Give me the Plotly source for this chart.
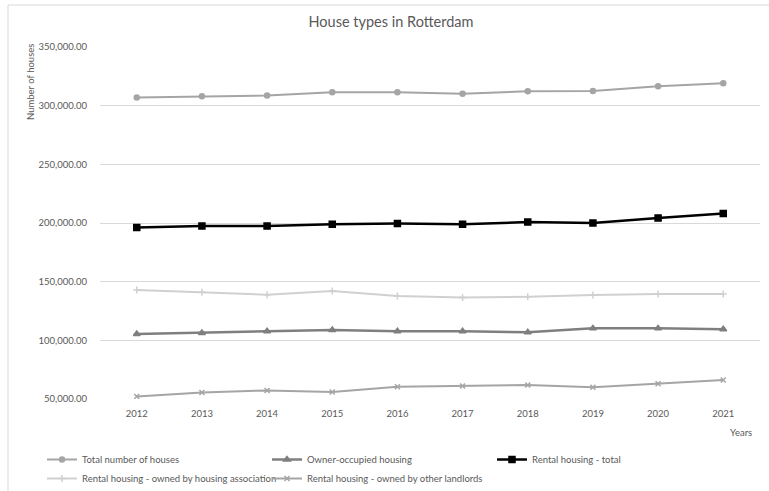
import plotly.graph_objects as go

years = ["2012", "2013", "2014", "2015", "2016", "2017", "2018", "2019", "2020", "2021"]
total_houses = [307000, 308000, 308700, 311400, 311400, 310200, 312300, 312500, 316600, 319000]
owner_occupied = [105400, 106300, 107700, 108900, 107700, 107700, 106800, 110200, 110200, 109400]
rental_total = [196100, 197400, 197400, 198900, 199500, 199000, 200800, 200000, 204300, 208000]
rental_association = [142900, 140900, 138900, 142000, 137800, 136600, 137200, 138600, 139500, 139500]
rental_other = [52200, 55600, 57300, 56000, 60500, 61100, 62000, 60000, 63000, 66200]

W, H = 769, 491
ML, MR, MT, MB = 100, 9, 47, 92
PW, PH = W - ML - MR, H - MT - MB

def px_x(x):
    return (x - ML) / PW

def px_y(y):
    return (H - MB - y) / PH

FONT = "Lato"
TXT = "#595959"

series = [
    ("Total number of houses", total_houses, "#A5A5A5", 2, "circle", 5),
    ("Owner-occupied housing", owner_occupied, "#7F7F7F", 2.5, "triangle-up", 6),
    ("Rental housing - total", rental_total, "#000000", 2.5, "square", 6),
    ("Rental housing - owned by housing association", rental_association, "#D0D0D0", 2, "cross-thin-open", 5),
    ("Rental housing - owned by other landlords", rental_other, "#A5A5A5", 2, "x-thin-open", 5),
]

fig = go.Figure()
for name, vals, color, lw, sym, ms in series:
    fig.add_trace(go.Scatter(
        x=years, y=vals, name=name, mode="lines+markers",
        line=dict(color=color, width=lw),
        marker=dict(symbol=sym, size=ms, color=color,
                    line=dict(color=color, width=1.5)),
    ))

fig.update_layout(
    width=W, height=H,
    margin=dict(l=ML, r=MR, t=MT, b=MB, autoexpand=False),
    paper_bgcolor="white", plot_bgcolor="white",
    font=dict(family=FONT, color=TXT, size=9.5),
    title=dict(text="House types in Rotterdam", x=391 / W, xanchor="center",
               y=1 - 22 / H, yanchor="middle",
               font=dict(family=FONT, size=14.5, color=TXT)),
    xaxis=dict(type="category", showgrid=False, zeroline=False, showline=False,
               ticks="", ticklabelstandoff=7,
               tickfont=dict(size=9.5, color=TXT)),
    yaxis=dict(range=[50000, 350000], dtick=50000, tickformat=",.2f",
               showgrid=True, gridcolor="#D9D9D9", gridwidth=1,
               zeroline=False, showline=False, ticks="", ticklabelstandoff=12,
               tickfont=dict(size=9.5, color=TXT)),
    legend=dict(orientation="h", x=px_x(42), xanchor="left",
                y=px_y(445), yanchor="top",
                entrywidth=180, entrywidthmode="pixels",
                tracegroupgap=0, itemwidth=30,
                font=dict(size=9.5, color=TXT)),
    annotations=[
        dict(text="Number of houses", textangle=-90, xref="paper", yref="paper",
             x=px_x(30), y=px_y(82), xanchor="center", yanchor="middle",
             showarrow=False, font=dict(size=9.5, color=TXT)),
        dict(text="Years", xref="paper", yref="paper",
             x=px_x(754), y=px_y(432), xanchor="right", yanchor="middle",
             showarrow=False, font=dict(size=9.5, color=TXT)),
    ],
    shapes=[
        dict(type="line", xref="paper", yref="paper",
             x0=px_x(8), x1=px_x(W + 5), y0=px_y(5), y1=px_y(5),
             line=dict(color="#D9D9D9", width=1)),
        dict(type="line", xref="paper", yref="paper",
             x0=px_x(8), x1=px_x(8), y0=px_y(5), y1=px_y(H + 5),
             line=dict(color="#D9D9D9", width=1)),
    ],
)

fig.write_html("out.html")
